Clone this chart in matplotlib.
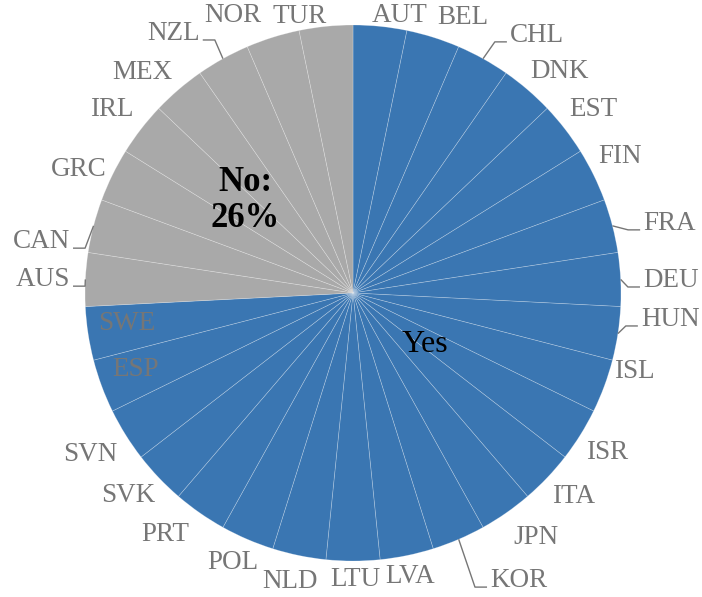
import numpy as np
import matplotlib
matplotlib.use("Agg")
import matplotlib.pyplot as plt

# countries in clockwise order starting at 12 o'clock
countries = ["AUT", "BEL", "CHL", "DNK", "EST", "FIN", "FRA", "DEU", "HUN", "ISL",
             "ISR", "ITA", "JPN", "KOR", "LVA", "LTU", "NLD", "POL", "PRT", "SVK",
             "SVN", "ESP", "SWE",
             "AUS", "CAN", "GRC", "IRL", "MEX", "NZL", "NOR", "TUR"]
answers = ["Yes"] * 23 + ["No"] * 8
values = [1] * len(countries)

colors = {"Yes": "#3a76b2", "No": "#a9a9a9"}
label_gray = "#767676"

# label placement (radius, angle in deg) - layout only
label_pos = {
    "AUT": (1.05, 80.4), "BEL": (1.107, 68.2), "DNK": (1.13, 46.9), "EST": (1.13, 37.3),
    "FIN": (1.12, 27.0), "ISL": (1.09, -15.6), "ISR": (1.12, -32.0), "ITA": (1.12, -42.8),
    "JPN": (1.14, -53.3), "LVA": (1.08, -78.6), "LTU": (1.07, -89.6), "NLD": (1.10, -102.3),
    "POL": (1.10, -114.0), "PRT": (1.14, -127.8), "SVK": (1.13, -138.0), "SVN": (1.15, -148.4),
    "ESP": (0.86, -160.5), "SWE": (0.85, -172.4), "GRC": (1.12, 155.8), "IRL": (1.13, 142.7),
    "MEX": (1.14, 133.7), "NOR": (1.13, 113.4), "TUR": (1.05, 100.9),
}
# labels with leader lines: end point of the line (radius, angle)
leader_pos = {
    "CHL": (1.099, 58.5), "FRA": (1.097, 12.4), "DEU": (1.071, 1.2), "HUN": (1.070, -6.6),
    "KOR": (1.206, -65.5), "CAN": (1.058, 170.9), "AUS": (1.045, 178.6), "NZL": (1.098, 120.7),
}

plt.rcParams["font.family"] = ["Liberation Serif", "DejaVu Serif"]

fig = plt.figure(figsize=(7.02, 5.97), dpi=100)
ax = fig.add_axes([0, 0, 1, 1])

wedges, _ = ax.pie(values, colors=[colors[a] for a in answers], startangle=90,
                   counterclock=False, radius=1,
                   wedgeprops=dict(edgecolor=(1, 1, 1, 0.3), linewidth=0.5))

n = len(values)
step = 360.0 / n
for i, name in enumerate(countries):
    mid = 90 - (i + 0.5) * step
    if name in leader_pos:
        r, a = leader_pos[name]
        px, py = r * np.cos(np.radians(a)), r * np.sin(np.radians(a))
        sx, sy = np.cos(np.radians(mid)), np.sin(np.radians(mid))
        side = 1 if px > 0 else -1
        ex = px - side * 0.045
        ax.plot([sx, ex, px], [sy, py, py], color=label_gray, lw=1.0,
                solid_capstyle="butt", clip_on=False)
        ax.text(px + side * 0.012, py, name, ha="left" if side > 0 else "right",
                va="baseline", fontsize=19.5, color=label_gray)
    else:
        r, a = label_pos[name]
        ax.text(r * np.cos(np.radians(a)), r * np.sin(np.radians(a)), name,
                ha="center", va="center", fontsize=19.5, color=label_gray)

# group labels
no_share = round(100 * answers.count("No") / n)
ax.text(0.33 * np.cos(np.radians(-36)), 0.33 * np.sin(np.radians(-36)), "Yes",
        ha="center", va="center", fontsize=23, color="black")
ax.text(0.53 * np.cos(np.radians(139.3)), 0.53 * np.sin(np.radians(139.3)),
        "No:\n%d%%" % no_share, ha="center", va="center", fontsize=25,
        fontweight="bold", color="black", linespacing=1.1)

ax.set_xlim(-353 / 268, (702 - 353) / 268)
ax.set_ylim(-(597 - 293) / 268, 293 / 268)
ax.set_aspect("equal")
ax.axis("off")

plt.savefig("out.png", dpi=100)
